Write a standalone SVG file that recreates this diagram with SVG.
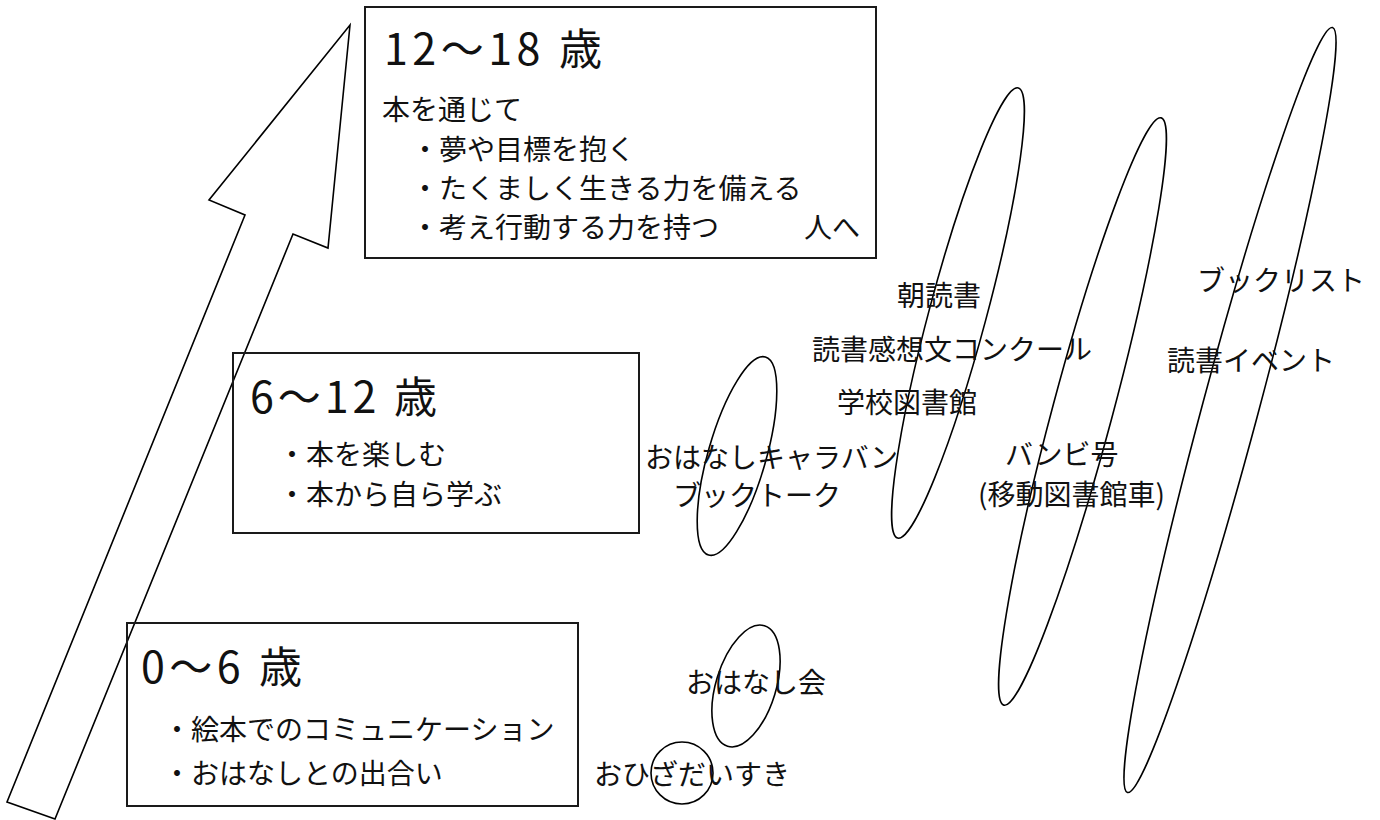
<svg xmlns="http://www.w3.org/2000/svg" width="1380" height="820" viewBox="0 0 1380 820">
<style>
.ln{fill:none;stroke:#000;stroke-width:1.6}
.bx{fill:none;stroke:#1a1a1a;stroke-width:2}
text{font-family:"Noto Sans CJK JP","Noto Sans",sans-serif;fill:#111;font-size:28px}
.h{font-size:43px}
</style>
<rect width="1380" height="820" fill="#fff"/>
<g id="growth-arrow">
<polygon class="ln" points="350,25 328,248 293,234 55,819 7,802 245,215 209,200"/>
</g>
<g id="age-12-18">
<rect class="bx" x="365" y="7" width="511" height="251"/>
<text class="h" x="384" y="65" textLength="218">12～18 歳</text>
<text x="382" y="120">本を通じて</text>
<text x="411" y="160">・夢や目標を抱く</text>
<text x="411" y="199">・たくましく生きる力を備える</text>
<text x="411" y="238">・考え行動する力を持つ</text>
<text x="804" y="238">人へ</text>
</g>
<g id="age-6-12">
<rect class="bx" x="233" y="353" width="406" height="180"/>
<text class="h" x="250" y="413" textLength="187">6～12 歳</text>
<text x="278" y="465">・本を楽しむ</text>
<text x="278" y="505">・本から自ら学ぶ</text>
</g>
<g id="age-0-6">
<rect class="bx" x="127" y="623" width="451" height="183"/>
<text class="h" x="141" y="683" textLength="161">0～6 歳</text>
<text x="163" y="740">・絵本でのコミュニケーション</text>
<text x="163" y="784">・おはなしとの出合い</text>
</g>
<g id="connectors">
<circle class="ln" cx="682" cy="773" r="31"/>
<ellipse class="ln" cx="746" cy="686" rx="30" ry="63" transform="rotate(17 746 686)"/>
<ellipse class="ln" cx="737" cy="456" rx="29" ry="103" transform="rotate(16 737 456)"/>
<ellipse class="ln" cx="958" cy="313" rx="28.6" ry="233" transform="rotate(15 958 313)"/>
<ellipse class="ln" cx="1082.5" cy="411.5" rx="30" ry="304" transform="rotate(15 1082.5 411.5)"/>
<ellipse class="ln" cx="1230" cy="410" rx="28" ry="396" transform="rotate(15 1230 410)"/>
</g>
<g id="labels">
<text x="594" y="785">おひざだいすき</text>
<text x="686" y="693">おはなし会</text>
<text x="645" y="468">おはなしキャラバン</text>
<text x="673" y="506">ブックトーク</text>
<text x="897" y="306">朝読書</text>
<text x="812" y="360">読書感想文コンクール</text>
<text x="837" y="413">学校図書館</text>
<text x="1005" y="465">バンビ号</text>
<text x="978" y="505">(移動図書館車)</text>
<text x="1197" y="291">ブックリスト</text>
<text x="1167" y="371">読書イベント</text>
</g>
</svg>
